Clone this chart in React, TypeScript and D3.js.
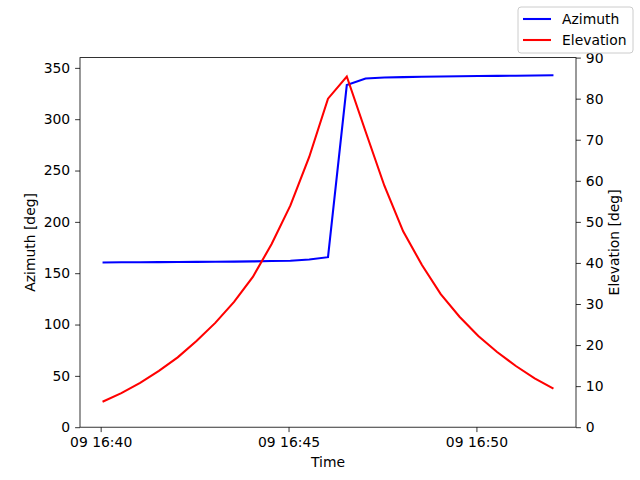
import { useEffect, useRef } from 'react';
import * as d3 from 'd3';

// samples every 30 s starting 09 16:40:03
const startTime = new Date(2023, 0, 9, 16, 40, 3);
const stepSeconds = 30;

const azimuth = [
  160.5, 160.6, 160.7, 160.8, 160.9, 161.0, 161.1, 161.3, 161.5, 161.8, 162.2, 163.3, 165.6,
  333.2, 339.6, 340.6, 341.0, 341.3, 341.6, 341.8, 342.0, 342.2, 342.4, 342.6, 342.8,
];

const elevation = [
  6.2, 8.3, 10.8, 13.7, 17.0, 21.0, 25.4, 30.5, 36.6, 44.6, 54.0, 65.8, 80.0,
  85.4, 72.0, 58.8, 47.7, 39.5, 32.4, 26.9, 22.2, 18.3, 14.9, 11.9, 9.4,
];

const leftTicks = [0, 50, 100, 150, 200, 250, 300, 350];
const rightTicks = [0, 10, 20, 30, 40, 50, 60, 70, 80, 90];
const seriesNames = ['Azimuth', 'Elevation'];
const seriesColors = ['#0000ff', '#ff0000'];

const App = () => {
  const svgRef = useRef<SVGSVGElement>(null);

  useEffect(() => {
    document.body.style.margin = '0';
    const W = 640;
    const H = 480;
    const margin = { top: 57.6, right: 64, bottom: 52.8, left: 80 };
    const width = W - margin.left - margin.right;
    const height = H - margin.top - margin.bottom;
    const font = 'DejaVu Sans, sans-serif';
    const fs = 13.9;

    const root = d3.select(svgRef.current).attr('width', W).attr('height', H);
    root.selectAll('*').remove();
    root.append('rect').attr('width', W).attr('height', H).attr('fill', '#fff');

    const svg = root.append('g').attr('transform', `translate(${margin.left},${margin.top})`);

    const times = azimuth.map((_, i) => new Date(startTime.getTime() + i * stepSeconds * 1000));
    const t0 = times[0].getTime();
    const t1 = times[times.length - 1].getTime();
    const pad = (t1 - t0) * 0.05;

    const x = d3.scaleTime().domain([new Date(t0 - pad), new Date(t1 + pad)]).range([0, width]);
    const yL = d3.scaleLinear().domain([0, 360]).range([height, 0]);
    const yR = d3.scaleLinear().domain([0, 90]).range([height, 0]);

    const xTicks = [0, 5, 10].map(m => new Date(2023, 0, 9, 16, 40 + m, 0));

    const styleAxis = g => {
      g.select('.domain').remove();
      g.selectAll('line').attr('stroke', '#000').attr('stroke-width', 0.8);
      g.selectAll('text').attr('font-family', font).attr('font-size', fs).attr('fill', '#000');
    };

    svg.append('g')
      .attr('transform', `translate(0,${height})`)
      .call(d3.axisBottom(x).tickValues(xTicks).tickFormat(d3.timeFormat('%d %H:%M')).tickSize(4.9).tickPadding(4.9))
      .call(styleAxis);

    svg.append('g')
      .call(d3.axisLeft(yL).tickValues(leftTicks).tickSize(4.9).tickPadding(4.9))
      .call(styleAxis);

    svg.append('g')
      .attr('transform', `translate(${width},0)`)
      .call(d3.axisRight(yR).tickValues(rightTicks).tickSize(4.9).tickPadding(4.9))
      .call(styleAxis);

    const lineL = d3.line<number>().x((_, i) => x(times[i])).y(d => yL(d));
    const lineR = d3.line<number>().x((_, i) => x(times[i])).y(d => yR(d));

    svg.append('path').datum(azimuth).attr('fill', 'none').attr('stroke', seriesColors[0])
      .attr('stroke-width', 2.08).attr('d', lineL);
    svg.append('path').datum(elevation).attr('fill', 'none').attr('stroke', seriesColors[1])
      .attr('stroke-width', 2.08).attr('d', lineR);

    // frame
    svg.append('rect').attr('width', width).attr('height', height)
      .attr('fill', 'none').attr('stroke', '#000').attr('stroke-width', 0.8);

    // axis labels
    svg.append('text').attr('x', width / 2).attr('y', height + 40)
      .attr('text-anchor', 'middle').attr('font-family', font).attr('font-size', fs).text('Time');
    svg.append('text')
      .attr('transform', `translate(${-45},${height / 2}) rotate(-90)`)
      .attr('text-anchor', 'middle').attr('font-family', font).attr('font-size', fs).text('Azimuth [deg]');
    svg.append('text')
      .attr('transform', `translate(${width + 42.5},${height / 2}) rotate(-90)`)
      .attr('text-anchor', 'middle').attr('font-family', font).attr('font-size', fs).text('Elevation [deg]');

    // figure legend, upper right
    const leg = root.append('g').attr('transform', 'translate(518,7)');
    leg.append('rect').attr('width', 115).attr('height', 46).attr('rx', 3)
      .attr('fill', '#fff').attr('fill-opacity', 0.8).attr('stroke', '#cccccc').attr('stroke-width', 1);
    seriesNames.forEach((name, i) => {
      const cy = 12 + i * 21;
      leg.append('line').attr('x1', 5).attr('x2', 33).attr('y1', cy).attr('y2', cy)
        .attr('stroke', seriesColors[i]).attr('stroke-width', 2.08);
      leg.append('text').attr('x', 44).attr('y', cy + 5).attr('font-family', font)
        .attr('font-size', fs).text(name);
    });
  }, []);

  return <svg ref={svgRef} style={{ display: 'block' }}></svg>;
};

export default App;
